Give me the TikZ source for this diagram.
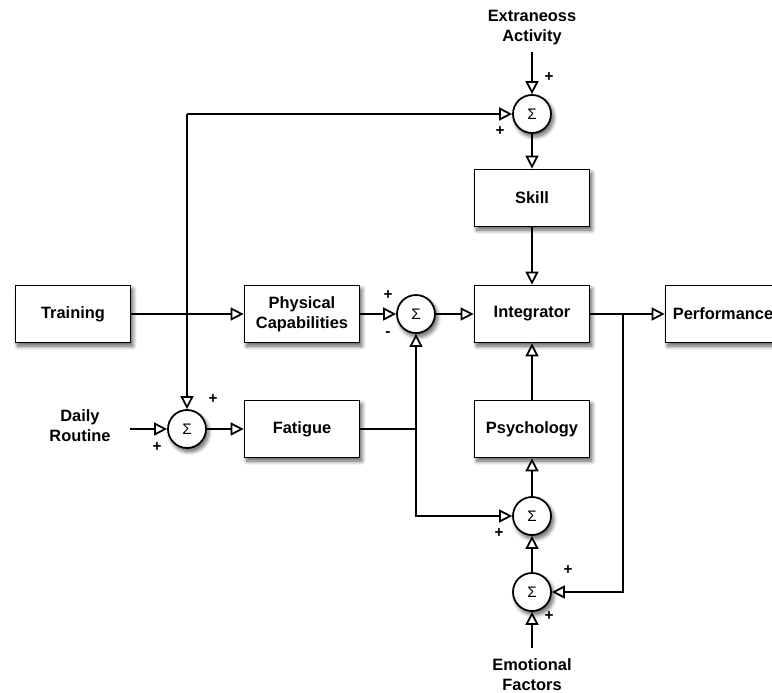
\documentclass[tikz,border=0pt]{standalone}
\usepackage{fontspec}
\setmainfont{Liberation Sans}
\usetikzlibrary{arrows.meta,shadows.blur}
\begin{document}
\begin{tikzpicture}[x=0.03cm,y=-0.03cm,
  every node/.style={font=\fontsize{14}{17}\selectfont\bfseries},
  softshadow/.style={blur shadow={shadow blur steps=8,shadow blur radius=3.5pt,shadow xshift=2pt,shadow yshift=-3pt,shadow opacity=65}},
  block/.style={draw,line width=1.5pt,fill=white,minimum width=115*0.03cm,minimum height=57*0.03cm,
    align=center,inner sep=1pt,softshadow},
  sumnode/.style={draw,circle,line width=1.5pt,fill=white,minimum size=38*0.03cm,inner sep=0pt,
    font=\fontsize{13}{15}\selectfont,softshadow},
  lbl/.style={align=center,inner sep=1pt},
  sgn/.style={font=\fontsize{13}{15}\selectfont\bfseries},
  wire/.style={line width=1.5pt},
  arr/.style={wire,-{Triangle[open,length=11pt,width=11pt,line width=1.5pt]}}
]
\useasboundingbox (0,0) rectangle (772,693);
\clip (0,0) rectangle (772,693);

% blocks
\node[block] (train) at (73,314) {Training};
\node[block] (phys) at (302,314) {Physical\\Capabilities};
\node[block] (integ) at (532,314) {Integrator};
\node[block] (perf) at (723,314) {Performance};
\node[block] (skill) at (532,198) {Skill};
\node[block] (fat) at (302,429) {Fatigue};
\node[block] (psy) at (532,429) {Psychology};

% summing junctions
\node[sumnode] (stop) at (532,114) {Σ};
\node[sumnode] (smid) at (416,314) {Σ};
\node[sumnode] (sday) at (187,429) {Σ};
\node[sumnode] (sps) at (532,516) {Σ};
\node[sumnode] (sem) at (532,592) {Σ};

% external inputs
\node[lbl] (extra) at (532,28) {Extraneoss\\Activity};
\node[lbl] (daily) at (80,426) {Daily\\Routine};
\node[lbl] (emo) at (532,675) {Emotional\\Factors};
\coordinate (dailyout) at (130,429);
\coordinate (extraout) at (532,52);
\coordinate (emoout) at (532,648);

% branch points
\coordinate (tap) at (187,114);
\coordinate (fj) at (416,429);
\coordinate (fb) at (416,516);
\coordinate (oj) at (623,314);
\coordinate (ob) at (623,592);

% connectors
\draw[arr] (extraout) -- (stop);
\draw[arr] (tap) -- (stop);
\draw[arr] (tap) -- (sday);
\draw[arr] (stop) -- (skill);
\draw[arr] (skill) -- (integ);
\draw[arr] (train) -- (phys);
\draw[arr] (phys) -- (smid);
\draw[arr] (smid) -- (integ);
\draw[arr] (integ) -- (perf);
\draw[arr] (dailyout) -- (sday);
\draw[arr] (sday) -- (fat);
\draw[wire] (fat.east) -- (fj);
\draw[arr] (fj) -- (smid);
\draw[arr] (fj) -- (fb) -- (sps);
\draw[arr] (sps) -- (psy);
\draw[arr] (psy) -- (integ);
\draw[arr] (sem) -- (sps);
\draw[arr] (emoout) -- (sem);
\draw[arr] (oj) -- (ob) -- (sem);

% signs
\node[sgn] at (549,77) {+};
\node[sgn] at (500,131) {+};
\node[sgn] at (388,295) {+};
\node[sgn] at (388,334) {-};
\node[sgn] at (213,399) {+};
\node[sgn] at (157,447) {+};
\node[sgn] at (499,533) {+};
\node[sgn] at (568,570) {+};
\node[sgn] at (549,616) {+};
\end{tikzpicture}
\end{document}
